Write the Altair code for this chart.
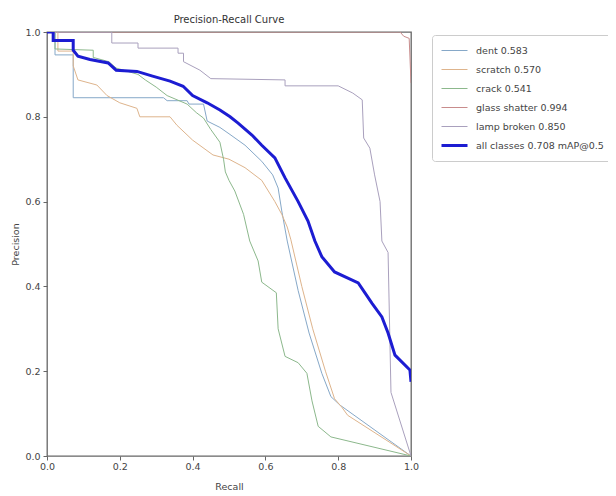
import altair as alt
import pandas as pd

labels = ["dent 0.583", "scratch 0.570", "crack 0.541", "glass shatter 0.994",
          "lamp broken 0.850", "all classes 0.708 mAP@0.5"]
colors = ["#86a8c8", "#deb48c", "#8cb88c", "#c88c8c", "#a9a0bd", "#1c1cd2"]
widths = [1, 1, 1, 1, 1, 3]

dent_r = [0, 0.022, 0.022, 0.072, 0.072, 0.32, 0.33, 0.385, 0.39, 0.43, 0.44, 0.475, 0.5, 0.544,
          0.59, 0.62, 0.635, 0.645, 0.66, 0.69, 0.72, 0.755, 0.78, 0.805, 1.0]
dent_p = [1, 1, 0.946, 0.946, 0.845, 0.845, 0.838, 0.838, 0.83, 0.83, 0.79, 0.775, 0.76, 0.733,
          0.695, 0.663, 0.632, 0.578, 0.507, 0.39, 0.29, 0.195, 0.14, 0.12, 0.0]

scratch_r = [0, 0.03, 0.03, 0.072, 0.072, 0.085, 0.137, 0.165, 0.2, 0.247, 0.255, 0.338, 0.357,
             0.40, 0.456, 0.50, 0.544, 0.59, 0.626, 0.645, 0.66, 0.67, 0.70, 0.73, 0.765, 0.79,
             0.81, 0.826, 1.0]
scratch_p = [1, 1, 0.955, 0.955, 0.92, 0.887, 0.875, 0.85, 0.833, 0.82, 0.80, 0.80, 0.78,
             0.745, 0.71, 0.70, 0.68, 0.65, 0.60, 0.57, 0.54, 0.51, 0.40, 0.30, 0.20, 0.135,
             0.115, 0.096, 0.0]

crack_r = [0, 0.022, 0.022, 0.127, 0.127, 0.17, 0.19, 0.25, 0.27, 0.30, 0.33, 0.385, 0.41, 0.43,
           0.45, 0.475, 0.485, 0.49, 0.50, 0.516, 0.54, 0.557, 0.58, 0.59, 0.63, 0.635, 0.654,
           0.69, 0.714, 0.728, 0.745, 0.78, 1.0]
crack_p = [1, 1, 0.96, 0.957, 0.94, 0.93, 0.915, 0.90, 0.887, 0.87, 0.85, 0.83, 0.81, 0.797,
           0.77, 0.74, 0.70, 0.67, 0.65, 0.625, 0.57, 0.507, 0.46, 0.41, 0.385, 0.30, 0.235,
           0.22, 0.195, 0.13, 0.07, 0.045, 0.0]

glass_r = [0, 0.97, 0.98, 0.995, 1.0]
glass_p = [1, 1, 0.99, 0.985, 0.88]

lamp_r = [0, 0.178, 0.178, 0.25, 0.25, 0.36, 0.36, 0.375, 0.375, 0.42, 0.45, 0.654, 0.654, 0.80,
          0.84, 0.866, 0.87, 0.887, 0.90, 0.915, 0.92, 0.937, 0.945, 1.0]
lamp_p = [1, 1, 0.974, 0.974, 0.962, 0.962, 0.95, 0.95, 0.93, 0.91, 0.89, 0.887, 0.873, 0.873,
          0.856, 0.84, 0.75, 0.726, 0.663, 0.60, 0.507, 0.48, 0.15, 0.0]

all_r = [0, 0.017, 0.017, 0.072, 0.072, 0.085, 0.118, 0.168, 0.19, 0.247, 0.29, 0.338, 0.374,
         0.40, 0.44, 0.475, 0.503, 0.525, 0.563, 0.59, 0.626, 0.654, 0.69, 0.717, 0.736, 0.755,
         0.79, 0.855, 0.874, 0.893, 0.92, 0.937, 0.956, 0.997, 1.0]
all_p = [1, 1, 0.98, 0.98, 0.957, 0.943, 0.935, 0.927, 0.91, 0.907, 0.896, 0.884, 0.872,
         0.85, 0.833, 0.816, 0.80, 0.785, 0.757, 0.733, 0.703, 0.656, 0.60, 0.554, 0.507, 0.47,
         0.434, 0.408, 0.384, 0.36, 0.328, 0.29, 0.238, 0.203, 0.175]

series = [(dent_r, dent_p), (scratch_r, scratch_p), (crack_r, crack_p), (glass_r, glass_p),
          (lamp_r, lamp_p), (all_r, all_p)]

rows = []
for lab, (rs, ps) in zip(labels, series):
    for i, (r, p) in enumerate(zip(rs, ps)):
        rows.append({"label": lab, "recall": r, "precision": p, "idx": i})
df = pd.DataFrame(rows)

font = "DejaVu Sans"
leg = alt.Legend(title=None, orient="none", legendX=385, legendY=3)

chart = alt.Chart(df).mark_line(clip=True, strokeJoin="miter").encode(
    x=alt.X("recall:Q", scale=alt.Scale(domain=[0, 1], nice=False),
            axis=alt.Axis(title="Recall", values=[0, 0.2, 0.4, 0.6, 0.8, 1.0], format=".1f",
                          labelPadding=1, titlePadding=11)),
    y=alt.Y("precision:Q", scale=alt.Scale(domain=[0, 1], nice=False),
            axis=alt.Axis(title="Precision", values=[0, 0.2, 0.4, 0.6, 0.8, 1.0], format=".1f",
                          titlePadding=4)),
    color=alt.Color("label:N", sort=labels,
                    scale=alt.Scale(type="ordinal", domain=labels, range=colors), legend=leg),
    strokeWidth=alt.StrokeWidth("label:N", sort=labels,
                                scale=alt.Scale(type="ordinal", domain=labels, range=widths),
                                legend=leg),
    order="idx:Q",
).properties(
    width=364, height=424,
    title=alt.TitleParams("Precision-Recall Curve", font=font, fontSize=10, fontWeight="normal",
                          color="#333", offset=2),
    autosize=alt.AutoSizeParams(type="none"),
    padding={"left": 39, "top": 24, "right": 197, "bottom": 40},
).configure_view(
    stroke="#666", strokeWidth=1.3
).configure_axis(
    domain=False, grid=False, labelFont=font, titleFont=font, labelFontSize=9.5,
    titleFontSize=9.5, titleFontWeight="normal", labelColor="#444", titleColor="#444",
    tickColor="#666", tickSize=4, labelPadding=3, labelFlush=False
).configure_legend(
    symbolType="stroke", symbolSize=676, labelFont=font, labelFontSize=9.5, labelColor="#444",
    labelOffset=7, padding=8, strokeColor="#ccc", fillColor="white", cornerRadius=3,
    rowPadding=4, clipHeight=15, labelLimit=300
)

chart.save("out.html", embed_options={"renderer": "svg", "actions": False})
